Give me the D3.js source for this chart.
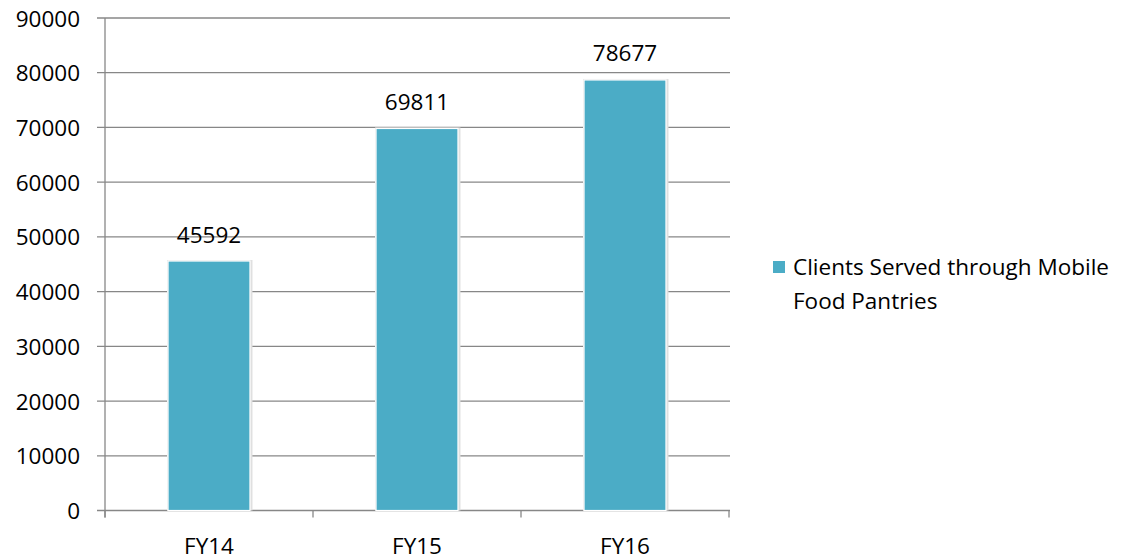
<!DOCTYPE html>
<html><head><meta charset="utf-8">
<script src="https://cdn.jsdelivr.net/npm/d3@7"></script>
<style>body{margin:0;background:#fff}svg{display:block}text{font-family:"Open Sans",sans-serif;fill:#000}</style>
</head><body><svg id="c" width="1128" height="559"></svg>
<script>
const categories = ["FY14", "FY15", "FY16"];
const values = [45592, 69811, 78677];
const yTicks = [0, 10000, 20000, 30000, 40000, 50000, 60000, 70000, 80000, 90000];
const seriesName = ["Clients Served through Mobile", "Food Pantries"];

const svg = d3.select("#c");
const x0 = 105, x1 = 729, yTop = 18, yBot = 510.5;
const x = d3.scaleBand().domain(categories).range([x0, x1]).paddingInner(0.606).paddingOuter(0.303);
const y = d3.scaleLinear().domain([0, 90000]).range([yBot, yTop]);
const grid = "#878787";
const fs = 22.5;

// gridlines + y tick marks
svg.append("g").selectAll("line").data(yTicks).join("line")
  .attr("x1", x0 - 8).attr("x2", x1 + 1)
  .attr("y1", d => y(d)).attr("y2", d => y(d))
  .attr("stroke", grid).attr("stroke-width", 1.3);
// y axis line
svg.append("line").attr("x1", x0).attr("x2", x0).attr("y1", yTop).attr("y2", yBot + 7)
  .attr("stroke", grid).attr("stroke-width", 1.3);
// y labels
svg.append("g").selectAll("text").data(yTicks).join("text")
  .attr("x", 80).attr("y", d => y(d)).attr("text-anchor", "end")
  .attr("dominant-baseline", "central").attr("font-size", fs).text(d => d);
// x ticks at band boundaries
const bounds = categories.map((_, i) => x0 + i * x.step());
bounds.push(x1);
svg.append("g").selectAll("line").data(bounds).join("line")
  .attr("x1", d => d).attr("x2", d => d).attr("y1", yBot).attr("y2", yBot + 7)
  .attr("stroke", grid).attr("stroke-width", 1.3);
// bars: shadow, then bar
const bars = svg.append("g");
bars.selectAll("rect.sh").data(values).join("rect").attr("class", "sh")
  .attr("x", (d, i) => x(categories[i]) - 1).attr("y", d => y(d) - 1)
  .attr("width", x.bandwidth() + 3.5).attr("height", d => yBot - y(d) + 1)
  .attr("fill", "#e0e0e0");
bars.selectAll("rect.b").data(values).join("rect").attr("class", "b")
  .attr("x", (d, i) => x(categories[i])).attr("y", d => y(d))
  .attr("width", x.bandwidth()).attr("height", d => yBot - y(d))
  .attr("fill", "#4BACC6").attr("stroke", "#fff").attr("stroke-width", 1.2);
// value labels
svg.append("g").selectAll("text").data(values).join("text")
  .attr("x", (d, i) => x(categories[i]) + x.bandwidth() / 2).attr("y", d => y(d) - 27)
  .attr("text-anchor", "middle").attr("dominant-baseline", "central").attr("font-size", fs).text(d => d);
// category labels
svg.append("g").selectAll("text").data(categories).join("text")
  .attr("x", d => x(d) + x.bandwidth() / 2).attr("y", 545)
  .attr("text-anchor", "middle").attr("dominant-baseline", "central").attr("font-size", fs).text(d => d);
// legend
svg.append("rect").attr("x", 773).attr("y", 261).attr("width", 12).attr("height", 12).attr("fill", "#4BACC6");
svg.append("g").selectAll("text").data(seriesName).join("text")
  .attr("x", 793).attr("y", (d, i) => 266 + i * 34).attr("dominant-baseline", "central")
  .attr("font-size", fs).text(d => d);
</script></body></html>
